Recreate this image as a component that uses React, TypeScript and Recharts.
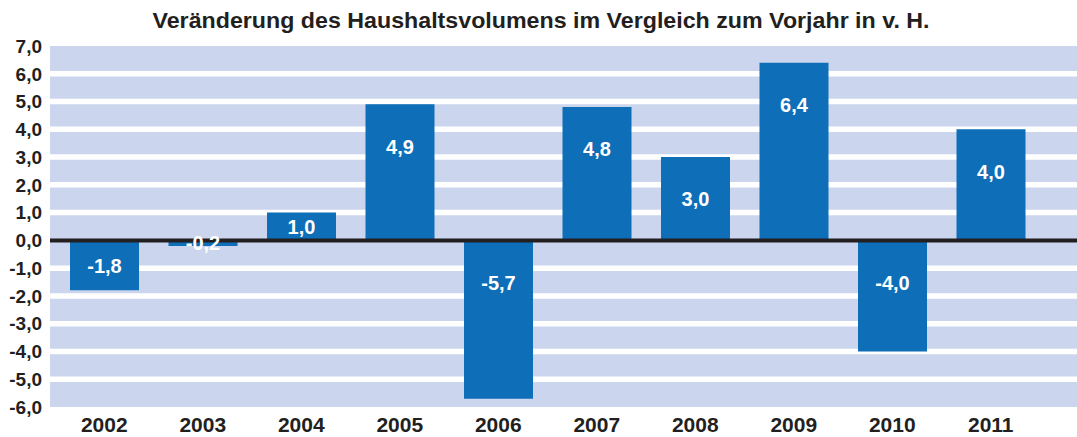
import React from 'react';
import { BarChart, Bar, XAxis, YAxis, CartesianGrid, ReferenceLine, LabelList } from 'recharts';

const years = ['2002', '2003', '2004', '2005', '2006', '2007', '2008', '2009', '2010', '2011'];
const changes = [-1.8, -0.2, 1.0, 4.9, -5.7, 4.8, 3.0, 6.4, -4.0, 4.0];
const yTicks = [-6, -5, -4, -3, -2, -1, 0, 1, 2, 3, 4, 5, 6, 7];
const gapLines = [-5, -4, -3, -2, -1, 1, 2, 3, 4, 5, 6];
const title = 'Veränderung des Haushaltsvolumens im Vergleich zum Vorjahr in v. H.';

const data = years.map((y, i) => ({ year: y, value: changes[i] }));

const fmt = (v: number) => v.toFixed(1).replace('.', ',');

const BAR = '#0e6eb8';
const BAND = '#cbd6ee';
const FONT = '"Liberation Sans", Arial, sans-serif';

const ValueLabel = (props: any) => {
  const { x, y, width, height, value } = props;
  const top = Math.min(y, y + height);
  const h = Math.abs(height);
  const cy = top + Math.min(42, h / 2);
  return (
    <text
      x={x + width / 2}
      y={cy}
      dy="0.36em"
      textAnchor="middle"
      fill="#ffffff"
      fontFamily={FONT}
      fontWeight="bold"
      fontSize={20}
    >
      {fmt(value)}
    </text>
  );
};

export default function App() {
  return (
    <div style={{ position: 'absolute', left: 0, top: 0, width: 1077, height: 437, background: '#fff' }}>
      <svg width={1077} height={40} style={{ position: 'absolute', left: 0, top: 0 }}>
        <text
          x={541}
          y={28}
          textAnchor="middle"
          fontFamily={'"Liberation Sans Narrow", "Liberation Sans", Arial, sans-serif'}
          fontWeight="bold"
          fontSize={22}
          fill="#231f20"
          textLength={777}
          lengthAdjust="spacingAndGlyphs"
        >
          {title}
        </text>
      </svg>
      <div style={{ position: 'absolute', left: 0, top: 0 }}>
        <BarChart
          width={1077}
          height={437}
          data={data}
          margin={{ top: 46, right: 0, left: 0, bottom: 0 }}
          barSize={69}
        >
          <CartesianGrid
            vertical={false}
            fill={BAND}
            fillOpacity={1}
            stroke="#ffffff"
            strokeWidth={5.5}
            horizontalValues={gapLines}
          />
          <XAxis
            dataKey="year"
            height={30}
            axisLine={false}
            tickLine={false}
            tickSize={0}
            tickMargin={10}
            padding={{ left: 5, right: 37 }}
            tick={{ fill: '#231f20', fontFamily: FONT, fontWeight: 'bold', fontSize: 21 }}
            interval={0}
          />
          <YAxis
            type="number"
            domain={[-6, 7]}
            ticks={yTicks}
            width={50}
            axisLine={false}
            tickLine={false}
            tickSize={0}
            tickMargin={8}
            interval={0}
            tickFormatter={(v: number) => fmt(v)}
            tick={{ fill: '#231f20', fontFamily: FONT, fontWeight: 'bold', fontSize: 19 }}
          />
          <Bar dataKey="value" fill={BAR} isAnimationActive={false}>
            <LabelList dataKey="value" content={<ValueLabel />} />
          </Bar>
          <ReferenceLine y={0} stroke="#231f20" strokeWidth={4} />
        </BarChart>
      </div>
    </div>
  );
}
